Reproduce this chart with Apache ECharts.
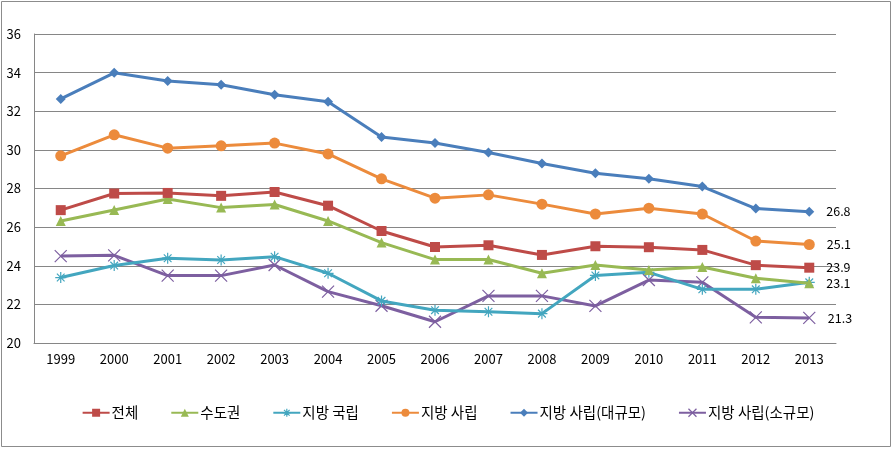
<!DOCTYPE html>
<html><head><meta charset="utf-8">
<script src="https://cdn.jsdelivr.net/npm/echarts@6/dist/echarts.min.js"></script>
<style>html,body{margin:0;padding:0;background:#fff}#c{width:896px;height:449px}</style>
</head><body><div id="c"></div>
<script>
const years = ['1999','2000','2001','2002','2003','2004','2005','2006','2007','2008','2009','2010','2011','2012','2013'];
const names = ['전체','수도권','지방 국립','지방 사립','지방 사립(대규모)','지방 사립(소규모)'];
const total    = [26.88,27.74,27.77,27.62,27.82,27.11,25.80,24.97,25.06,24.56,25.01,24.96,24.82,24.03,23.9];
const capital  = [26.32,26.89,27.46,27.01,27.17,26.32,25.20,24.32,24.32,23.61,24.04,23.78,23.94,23.35,23.1];
const regPub   = [23.39,24.01,24.39,24.30,24.47,23.61,22.18,21.70,21.62,21.52,23.50,23.66,22.78,22.78,23.14];
const regPriv  = [29.69,30.78,30.09,30.21,30.35,29.79,28.50,27.50,27.67,27.19,26.68,26.98,26.68,25.28,25.1];
const privLarge= [32.64,33.99,33.57,33.37,32.85,32.49,30.67,30.36,29.86,29.29,28.79,28.51,28.10,26.96,26.8];
const privSmall= [24.50,24.54,23.49,23.49,24.04,22.66,21.93,21.10,22.44,22.44,21.92,23.26,23.14,21.33,21.3];
const endLabels = ['23.9','23.1','','25.1','26.8','21.3'];
const yTicks = {min:20, max:36, interval:2};

const colors = ['#BE4B48','#98B954','#43A6BF','#EC8B3C','#4A7EBB','#7D5FA0'];
const symbols = ['rect','triangle',
  'path://M0,-10L0,10M-10,0L10,0M-7,-7L7,7M-7,7L7,-7',
  'circle','diamond',
  'path://M-10,-10L10,10M-10,10L10,-10'];
const sizes = [10,10,11,11,10,12];
const datas = [total,capital,regPub,regPriv,privLarge,privSmall];
const font = '"Noto Sans CJK KR","Noto Sans",sans-serif';
const isStroke = i => (i===2||i===5);

const series = datas.map((d,i)=>{
  return {
    name: names[i], type:'line', data: d.map((v,j)=>{
      const o = {value:v};
      if (j===d.length-1 && endLabels[i]) {
        o.label = {show:true, position:'right', distance:12, formatter:endLabels[i], color:'#000', fontSize:12.5, fontFamily:font};
      }
      return o;
    }),
    symbol: symbols[i], symbolSize: sizes[i], showAllSymbol:true,
    lineStyle:{color:colors[i], width:3},
    itemStyle: isStroke(i) ? {color:colors[i], borderColor:colors[i], borderWidth:1.2} : {color:colors[i], borderWidth:0},
    emphasis:{disabled:true},
    z: 10-i
  };
});

const chart = echarts.init(document.getElementById('c'), null, {renderer:'canvas'});
chart.setOption({
  animation:false,
  backgroundColor:'#fff',
  graphic:[{type:'rect', shape:{x:1.5,y:1.5,width:889,height:445}, style:{fill:'none', stroke:'#8c8c8c', lineWidth:1}, silent:true}],
  grid:{left:34, right:60, top:34, bottom:106, containLabel:false},
  legend:{
    data: names.map((n,i)=> isStroke(i)
      ? {name:n, itemStyle:{color:colors[i], borderColor:colors[i], borderWidth:1.2}}
      : {name:n}),
    bottom:24, left:'center', itemGap:32, itemWidth:27, itemHeight:10,
    textStyle:{fontSize:14.5, color:'#000', fontFamily:font, padding:[0,0,0,-3]}
  },
  xAxis:{
    type:'category', data:years, boundaryGap:true,
    axisLine:{show:true, lineStyle:{color:'#868686', width:1}},
    axisTick:{show:false},
    axisLabel:{color:'#000', fontSize:13, fontFamily:font, margin:10},
    splitLine:{show:false}
  },
  yAxis:{
    type:'value', min:yTicks.min, max:yTicks.max, interval:yTicks.interval,
    axisLine:{show:true, lineStyle:{color:'#868686', width:1}},
    axisTick:{show:false},
    axisLabel:{color:'#000', fontSize:13, fontFamily:font, margin:13},
    splitLine:{show:true, lineStyle:{color:'#868686', width:1}}
  },
  series
});
</script></body></html>
